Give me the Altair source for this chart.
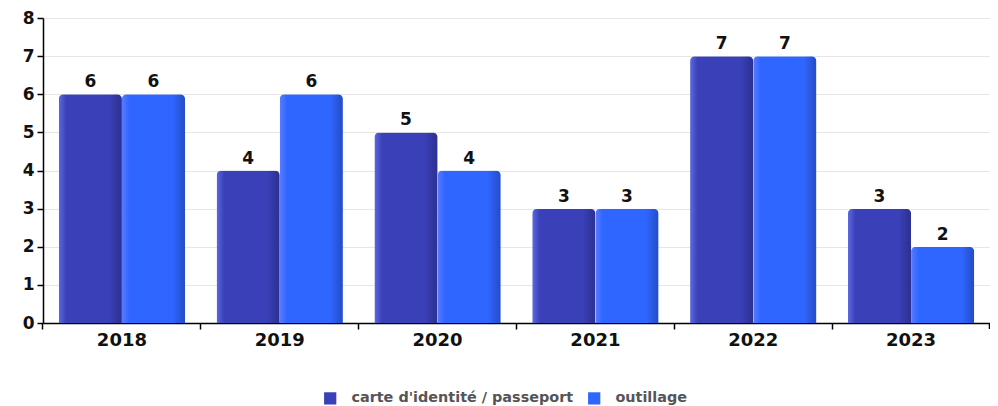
import altair as alt
import pandas as pd

years = ["2018", "2019", "2020", "2021", "2022", "2023"]
series_names = ["carte d'identité / passeport", "outillage"]
carte = [6, 4, 5, 3, 7, 3]
outillage = [6, 6, 4, 3, 7, 2]
colors = ["#3a40b8", "#2f66ff"]

rows = []
for i, y in enumerate(years):
    rows.append({"year": y, "series": series_names[0], "value": carte[i]})
    rows.append({"year": y, "series": series_names[1], "value": outillage[i]})
df = pd.DataFrame(rows)

FONT = "DejaVu Sans"
W, H = 947, 305

xscale = alt.Scale(paddingInner=0.2, paddingOuter=0.1)
x_main = alt.X("year:N", scale=xscale, sort=years, title=None,
               axis=alt.Axis(labelAngle=0, ticks=False, domain=True, domainColor="#000000",
                             domainWidth=1.5, labelFont=FONT, labelFontSize=18,
                             labelFontWeight="bold", labelColor="#111111", labelPadding=8,
                             grid=False, orient="bottom"))
x_ticks = alt.X("year:N", scale=xscale, sort=years, title=None,
                axis=alt.Axis(labels=False, ticks=True, tickSize=6, tickColor="#000000",
                              tickWidth=1.5, bandPosition=-0.125, domain=False, grid=False,
                              orient="bottom"))
xoff = alt.XOffset("series:N", sort=series_names,
                   scale=alt.Scale(domain=series_names, paddingInner=0.0))
y_enc = alt.Y("value:Q", title=None,
              scale=alt.Scale(domain=[0, 8], nice=False),
              axis=alt.Axis(values=list(range(0, 9)), grid=True, gridColor="#e6e6e6",
                            domainColor="#000000", domainWidth=1.5, tickColor="#000000",
                            tickSize=6, tickWidth=1.5, labelFont=FONT, labelFontSize=17,
                            labelFontWeight="bold", labelColor="#111111", labelPadding=3))

base = alt.Chart(df)

bars = base.mark_bar(cornerRadiusTopLeft=5, cornerRadiusTopRight=5).encode(
    x=x_main,
    xOffset=xoff,
    y=y_enc,
    color=alt.Color("series:N", sort=series_names,
                    scale=alt.Scale(domain=series_names, range=colors),
                    legend=alt.Legend(title=None, orient="none", direction="horizontal",
                                      legendX=280, legendY=373, symbolType="square",
                                      symbolSize=150, symbolStrokeWidth=0,
                                      labelFont=FONT, labelFontSize=14.4, labelLimit=400,
                                      labelFontWeight="bold", labelColor="#555555",
                                      columnPadding=13, labelOffset=14)),
)

shade = base.mark_bar(
    cornerRadiusTopLeft=5, cornerRadiusTopRight=5,
    color=alt.Gradient(gradient="linear", x1=0, x2=1, y1=0, y2=0, stops=[
        alt.GradientStop(color="rgba(120,140,255,0.55)", offset=0),
        alt.GradientStop(color="rgba(120,140,255,0.0)", offset=0.12),
        alt.GradientStop(color="rgba(0,0,0,0.0)", offset=0.8),
        alt.GradientStop(color="rgba(0,0,30,0.25)", offset=1),
    ])
).encode(x=alt.X("year:N", scale=xscale, sort=years, axis=None), xOffset=xoff, y=y_enc)

labels = base.mark_text(baseline="bottom", dy=-3, font=FONT, fontSize=17,
                        fontWeight="bold", color="#111111").encode(
    x=x_ticks, xOffset=xoff, y=y_enc, text="value:Q"
)

end_tick = alt.Chart(pd.DataFrame({"k": [0]})).mark_rule(color="#000000", strokeWidth=1.5).encode(
    x=alt.value(W - 0.5), y=alt.value(H), y2=alt.value(H + 6)
)

chart = alt.layer(bars, shade, labels, end_tick).resolve_axis(x="independent").properties(
    width=W, height=H,
    autosize=alt.AutoSizeParams(type="none"),
    padding={"left": 35, "top": 10, "right": 0, "bottom": 90},
).configure_view(stroke=None).configure_axis(labelFont=FONT)

chart.save("out.html", embed_options={"renderer": "svg", "actions": False})
